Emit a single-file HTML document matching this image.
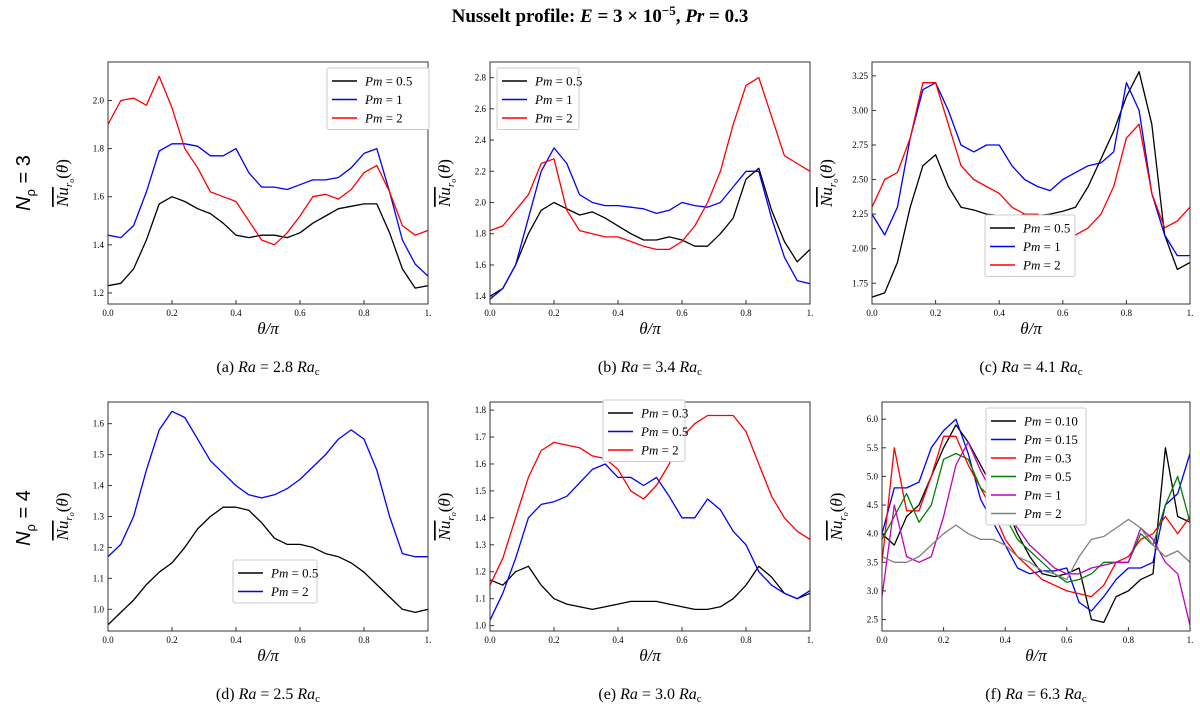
<!DOCTYPE html>
<html><head><meta charset="utf-8">
<style>
html,body{margin:0;padding:0;background:#fff;}
svg{display:block;font-family:"Liberation Serif",serif;}
</style></head>
<body>
<svg id="fig" width="1200" height="712" viewBox="0 0 1200 712" xmlns="http://www.w3.org/2000/svg">
<text x="600" y="22" text-anchor="middle" font-size="19" font-weight="bold">Nusselt profile: <tspan font-style="italic">E</tspan> = 3 × 10<tspan dy="-7" font-size="13">−5</tspan><tspan dy="7">,  </tspan><tspan font-style="italic">Pr</tspan> = 0.3</text>
<text transform="translate(30,183) rotate(-90)" text-anchor="middle" font-size="20" font-family="Liberation Sans,sans-serif"><tspan font-style="italic">N</tspan><tspan font-size="13" dy="5">ρ</tspan><tspan dy="-5"> = 3</tspan></text>
<text transform="translate(30,518) rotate(-90)" text-anchor="middle" font-size="20" font-family="Liberation Sans,sans-serif"><tspan font-style="italic">N</tspan><tspan font-size="13" dy="5">ρ</tspan><tspan dy="-5"> = 4</tspan></text>
<g id="panels"></g>
</svg>
<script>
const xTicks=[0,0.2,0.4,0.6,0.8,1.0];
const xTickLabels=["0.0","0.2","0.4","0.6","0.8","1."];
const theta=[0,.04,.08,.12,.16,.20,.24,.28,.32,.36,.40,.44,.48,.52,.56,.60,.64,.68,.72,.76,.80,.84,.88,.92,.96,1.0];
const captions=["(a) ","(b) ","(c) ","(d) ","(e) ","(f) "];
const raValues=["2.8","3.4","4.1","2.5","3.0","6.3"];
// panel a
const aBlack=[1.23,1.24,1.30,1.42,1.57,1.60,1.58,1.55,1.53,1.49,1.44,1.43,1.44,1.44,1.43,1.45,1.49,1.52,1.55,1.56,1.57,1.57,1.45,1.30,1.22,1.23];
const aBlue=[1.44,1.43,1.48,1.62,1.79,1.82,1.82,1.81,1.77,1.77,1.80,1.70,1.64,1.64,1.63,1.65,1.67,1.67,1.68,1.72,1.78,1.80,1.62,1.42,1.32,1.27];
const aRed=[1.90,2.00,2.01,1.98,2.10,1.97,1.80,1.72,1.62,1.60,1.58,1.50,1.42,1.40,1.45,1.52,1.60,1.61,1.59,1.63,1.70,1.73,1.62,1.48,1.44,1.46];
// panel b
const bBlack=[1.40,1.45,1.60,1.80,1.95,2.00,1.96,1.92,1.94,1.90,1.85,1.80,1.76,1.76,1.78,1.76,1.72,1.72,1.80,1.90,2.15,2.22,1.95,1.75,1.62,1.70];
const bBlue=[1.38,1.45,1.60,1.90,2.20,2.35,2.25,2.05,2.00,1.98,1.98,1.97,1.96,1.93,1.95,2.00,1.98,1.97,2.00,2.10,2.20,2.20,1.90,1.65,1.50,1.48];
const bRed=[1.82,1.85,1.95,2.05,2.25,2.28,1.95,1.82,1.80,1.78,1.78,1.75,1.72,1.70,1.70,1.75,1.85,2.00,2.20,2.50,2.75,2.80,2.55,2.30,2.25,2.20];
// panel c
const cBlack=[1.65,1.68,1.90,2.30,2.60,2.68,2.45,2.30,2.28,2.25,2.24,2.22,2.25,2.24,2.25,2.27,2.30,2.45,2.65,2.85,3.10,3.28,2.90,2.10,1.85,1.90];
const cBlue=[2.25,2.10,2.30,2.80,3.15,3.20,3.00,2.75,2.70,2.75,2.75,2.60,2.50,2.45,2.42,2.50,2.55,2.60,2.62,2.70,3.20,3.00,2.40,2.10,1.95,1.95];
const cRed=[2.30,2.50,2.55,2.80,3.20,3.20,2.90,2.60,2.50,2.45,2.40,2.30,2.25,2.25,2.20,2.15,2.10,2.15,2.25,2.45,2.80,2.90,2.40,2.15,2.20,2.30];
// panel d
const dBlack=[0.95,0.99,1.03,1.08,1.12,1.15,1.20,1.26,1.30,1.33,1.33,1.32,1.28,1.23,1.21,1.21,1.20,1.18,1.17,1.15,1.12,1.08,1.04,1.00,0.99,1.00];
const dBlue=[1.17,1.21,1.30,1.45,1.58,1.64,1.62,1.55,1.48,1.44,1.40,1.37,1.36,1.37,1.39,1.42,1.46,1.50,1.55,1.58,1.55,1.45,1.30,1.18,1.17,1.17];
// panel e
const eBlack=[1.17,1.15,1.20,1.22,1.15,1.10,1.08,1.07,1.06,1.07,1.08,1.09,1.09,1.09,1.08,1.07,1.06,1.06,1.07,1.10,1.15,1.22,1.18,1.12,1.10,1.12];
const eBlue=[1.02,1.12,1.25,1.40,1.45,1.46,1.48,1.53,1.58,1.60,1.55,1.55,1.52,1.55,1.48,1.40,1.40,1.47,1.43,1.35,1.30,1.20,1.15,1.12,1.10,1.13];
const eRed=[1.15,1.25,1.40,1.55,1.65,1.68,1.67,1.66,1.63,1.62,1.58,1.50,1.47,1.52,1.60,1.70,1.75,1.78,1.78,1.78,1.72,1.60,1.48,1.40,1.35,1.32];
// panel f
const fBlack=[4.0,3.8,4.3,4.5,5.0,5.5,5.9,5.6,5.2,4.8,4.5,4.0,3.6,3.3,3.25,3.3,3.4,2.5,2.45,2.9,3.0,3.2,3.3,5.5,4.3,4.2];
const fBlue=[4.0,4.8,4.8,4.9,5.5,5.8,6.0,5.4,4.6,4.2,3.8,3.4,3.3,3.35,3.35,3.4,2.8,2.65,2.9,3.2,3.4,3.4,3.5,4.5,4.7,5.4];
const fRed=[3.5,5.5,4.4,4.4,5.0,5.7,5.7,5.2,4.8,4.4,3.9,3.6,3.4,3.2,3.1,3.0,2.95,2.9,3.1,3.5,3.6,3.9,4.0,4.3,4.0,4.3];
const fGreen=[3.9,4.3,4.7,4.2,4.5,5.3,5.4,5.3,4.8,4.6,4.3,3.9,3.7,3.5,3.3,3.15,3.2,3.3,3.5,3.5,3.5,4.0,3.8,4.5,5.0,4.2];
const fMagenta=[2.9,4.5,3.6,3.5,3.6,4.3,5.2,5.6,5.1,4.7,4.4,4.1,3.8,3.6,3.4,3.3,3.3,3.4,3.45,3.5,3.5,4.1,3.9,3.5,3.3,2.4];
const fGray=[3.6,3.5,3.5,3.6,3.8,4.0,4.15,4.0,3.9,3.9,3.8,3.6,3.5,3.35,3.3,3.2,3.6,3.9,3.95,4.1,4.25,4.1,3.8,3.6,3.7,3.5];
const yTicksA=[1.2,1.4,1.6,1.8,2.0], yTicksB=[1.4,1.6,1.8,2.0,2.2,2.4,2.6,2.8], yTicksC=[1.75,2.0,2.25,2.5,2.75,3.0,3.25];
const yTicksD=[1.0,1.1,1.2,1.3,1.4,1.5,1.6], yTicksE=[1.0,1.1,1.2,1.3,1.4,1.5,1.6,1.7,1.8], yTicksF=[2.5,3.0,3.5,4.0,4.5,5.0,5.5,6.0];

const NS="http://www.w3.org/2000/svg";
const root=document.getElementById('panels');
function mk(tag,attrs,parent){const e=document.createElementNS(NS,tag);for(const k in attrs)e.setAttribute(k,attrs[k]);(parent||root).appendChild(e);return e;}
const C={k:'#000',b:'#0000ff',r:'#ff0000',g:'#008000',m:'#c000c0',y:'#808080'};
const panels=[
 {id:'a',x0:108,x1:428,y0:62,y1:304,ymin:1.154,ymax:2.16,ticks:yTicksA,fmt:1,series:[[aBlack,C.k,'0.5'],[aBlue,C.b,'1'],[aRed,C.r,'2']],leg:[327,68,102]},
 {id:'b',x0:490,x1:810,y0:62,y1:304,ymin:1.35,ymax:2.9,ticks:yTicksB,fmt:1,series:[[bBlack,C.k,'0.5'],[bBlue,C.b,'1'],[bRed,C.r,'2']],leg:[497,68,82]},
 {id:'c',x0:872,x1:1190,y0:62,y1:304,ymin:1.6,ymax:3.35,ticks:yTicksC,fmt:2,series:[[cBlack,C.k,'0.5'],[cBlue,C.b,'1'],[cRed,C.r,'2']],leg:[985,215,90]},
 {id:'d',x0:108,x1:428,y0:402,y1:631,ymin:0.93,ymax:1.67,ticks:yTicksD,fmt:1,series:[[dBlack,C.k,'0.5'],[dBlue,C.b,'2']],leg:[233,560,84]},
 {id:'e',x0:490,x1:810,y0:402,y1:631,ymin:0.98,ymax:1.83,ticks:yTicksE,fmt:1,series:[[eBlack,C.k,'0.3'],[eBlue,C.b,'0.5'],[eRed,C.r,'2']],leg:[603,400,82]},
 {id:'f',x0:882,x1:1190,y0:402,y1:631,ymin:2.3,ymax:6.3,ticks:yTicksF,fmt:1,series:[[fBlack,C.k,'0.10'],[fBlue,C.b,'0.15'],[fRed,C.r,'0.3'],[fGreen,C.g,'0.5'],[fMagenta,C.m,'1'],[fGray,C.y,'2']],leg:[986,408,100]}
];
panels.forEach((p,pi)=>{
 const g=mk('g',{});
 
 
 const sx=v=>p.x0+(p.x1-p.x0)*v;
 const sy=v=>p.y1-(v-p.ymin)/(p.ymax-p.ymin)*(p.y1-p.y0);
 const cp=mk('clipPath',{id:'clip'+p.id},g);
 mk('rect',{x:p.x0,y:p.y0,width:p.x1-p.x0,height:p.y1-p.y0},cp);
 p.series.forEach((s,si)=>{
  const d=s[0].map((v,i)=>(i?'L':'M')+sx(theta[i]).toFixed(1)+','+sy(v).toFixed(1)).join('');
  const path=mk('path',{d:d,fill:'none',stroke:s[1],'stroke-width':1.3,'clip-path':'url(#clip'+p.id+')','stroke-linejoin':'round'},g);
  
  
 });
 const frame=mk('rect',{x:p.x0,y:p.y0,width:p.x1-p.x0,height:p.y1-p.y0,fill:'none',stroke:'#333','stroke-width':1},g);
 
 
 xTicks.forEach((t,i)=>{
  mk('line',{x1:sx(t),x2:sx(t),y1:p.y1,y2:p.y1-4,stroke:'#333'},g);
  const tl=mk('text',{x:sx(t),y:p.y1+12,'text-anchor':'middle','font-size':9},g);
  tl.textContent=xTickLabels[i];
  
  
 });
 p.ticks.forEach(t=>{
  mk('line',{x1:p.x0,x2:p.x0+4,y1:sy(t),y2:sy(t),stroke:'#333'},g);
  const tl=mk('text',{x:p.x0-4,y:sy(t)+3,'text-anchor':'end','font-size':9},g);
  tl.textContent=t.toFixed(p.fmt);
  
  
 });
 const cy=(p.y0+p.y1)/2;
 const yl=mk('text',{transform:'translate('+(p.x0-40)+','+cy+') rotate(-90)','text-anchor':'middle','font-size':17,'font-style':'italic'},g);
 yl.innerHTML='<tspan text-decoration="overline">Nu</tspan><tspan font-size="11" dy="4">r</tspan><tspan font-size="8" dy="2">o</tspan><tspan dy="-6" font-style="normal">(</tspan>θ<tspan font-style="normal">)</tspan>';
 
 
 const xl=mk('text',{x:(p.x0+p.x1)/2,y:p.y1+30,'text-anchor':'middle','font-size':17,'font-style':'italic'},g);
 xl.textContent='θ/π';
 
 
 const cap=mk('text',{x:(p.x0+p.x1)/2,y:p.y1+68,'text-anchor':'middle','font-size':16},g);
 cap.innerHTML=captions[pi]+'<tspan font-style="italic">Ra</tspan> = '+raValues[pi]+' <tspan font-style="italic">Ra</tspan><tspan font-size="11" dy="3">c</tspan>';
 
 
 const [lx,ly,lw]=p.leg, n=p.series.length, rh=18.5;
 const lg=mk('g',{},g);
 
 
 mk('rect',{x:lx,y:ly,width:lw,height:n*rh+6,fill:'#fff',stroke:'#ccc',rx:2},lg);
 p.series.forEach((s,si)=>{
  const yy=ly+13+si*rh;
  mk('line',{x1:lx+5,x2:lx+30,y1:yy,y2:yy,stroke:s[1],'stroke-width':1.5},lg);
  const t=mk('text',{x:lx+38,y:yy+4.5,'font-size':13},lg);
  t.innerHTML='<tspan font-style="italic">Pm</tspan> = '+s[2];
  
  
 });
});
</script>
</body></html>
